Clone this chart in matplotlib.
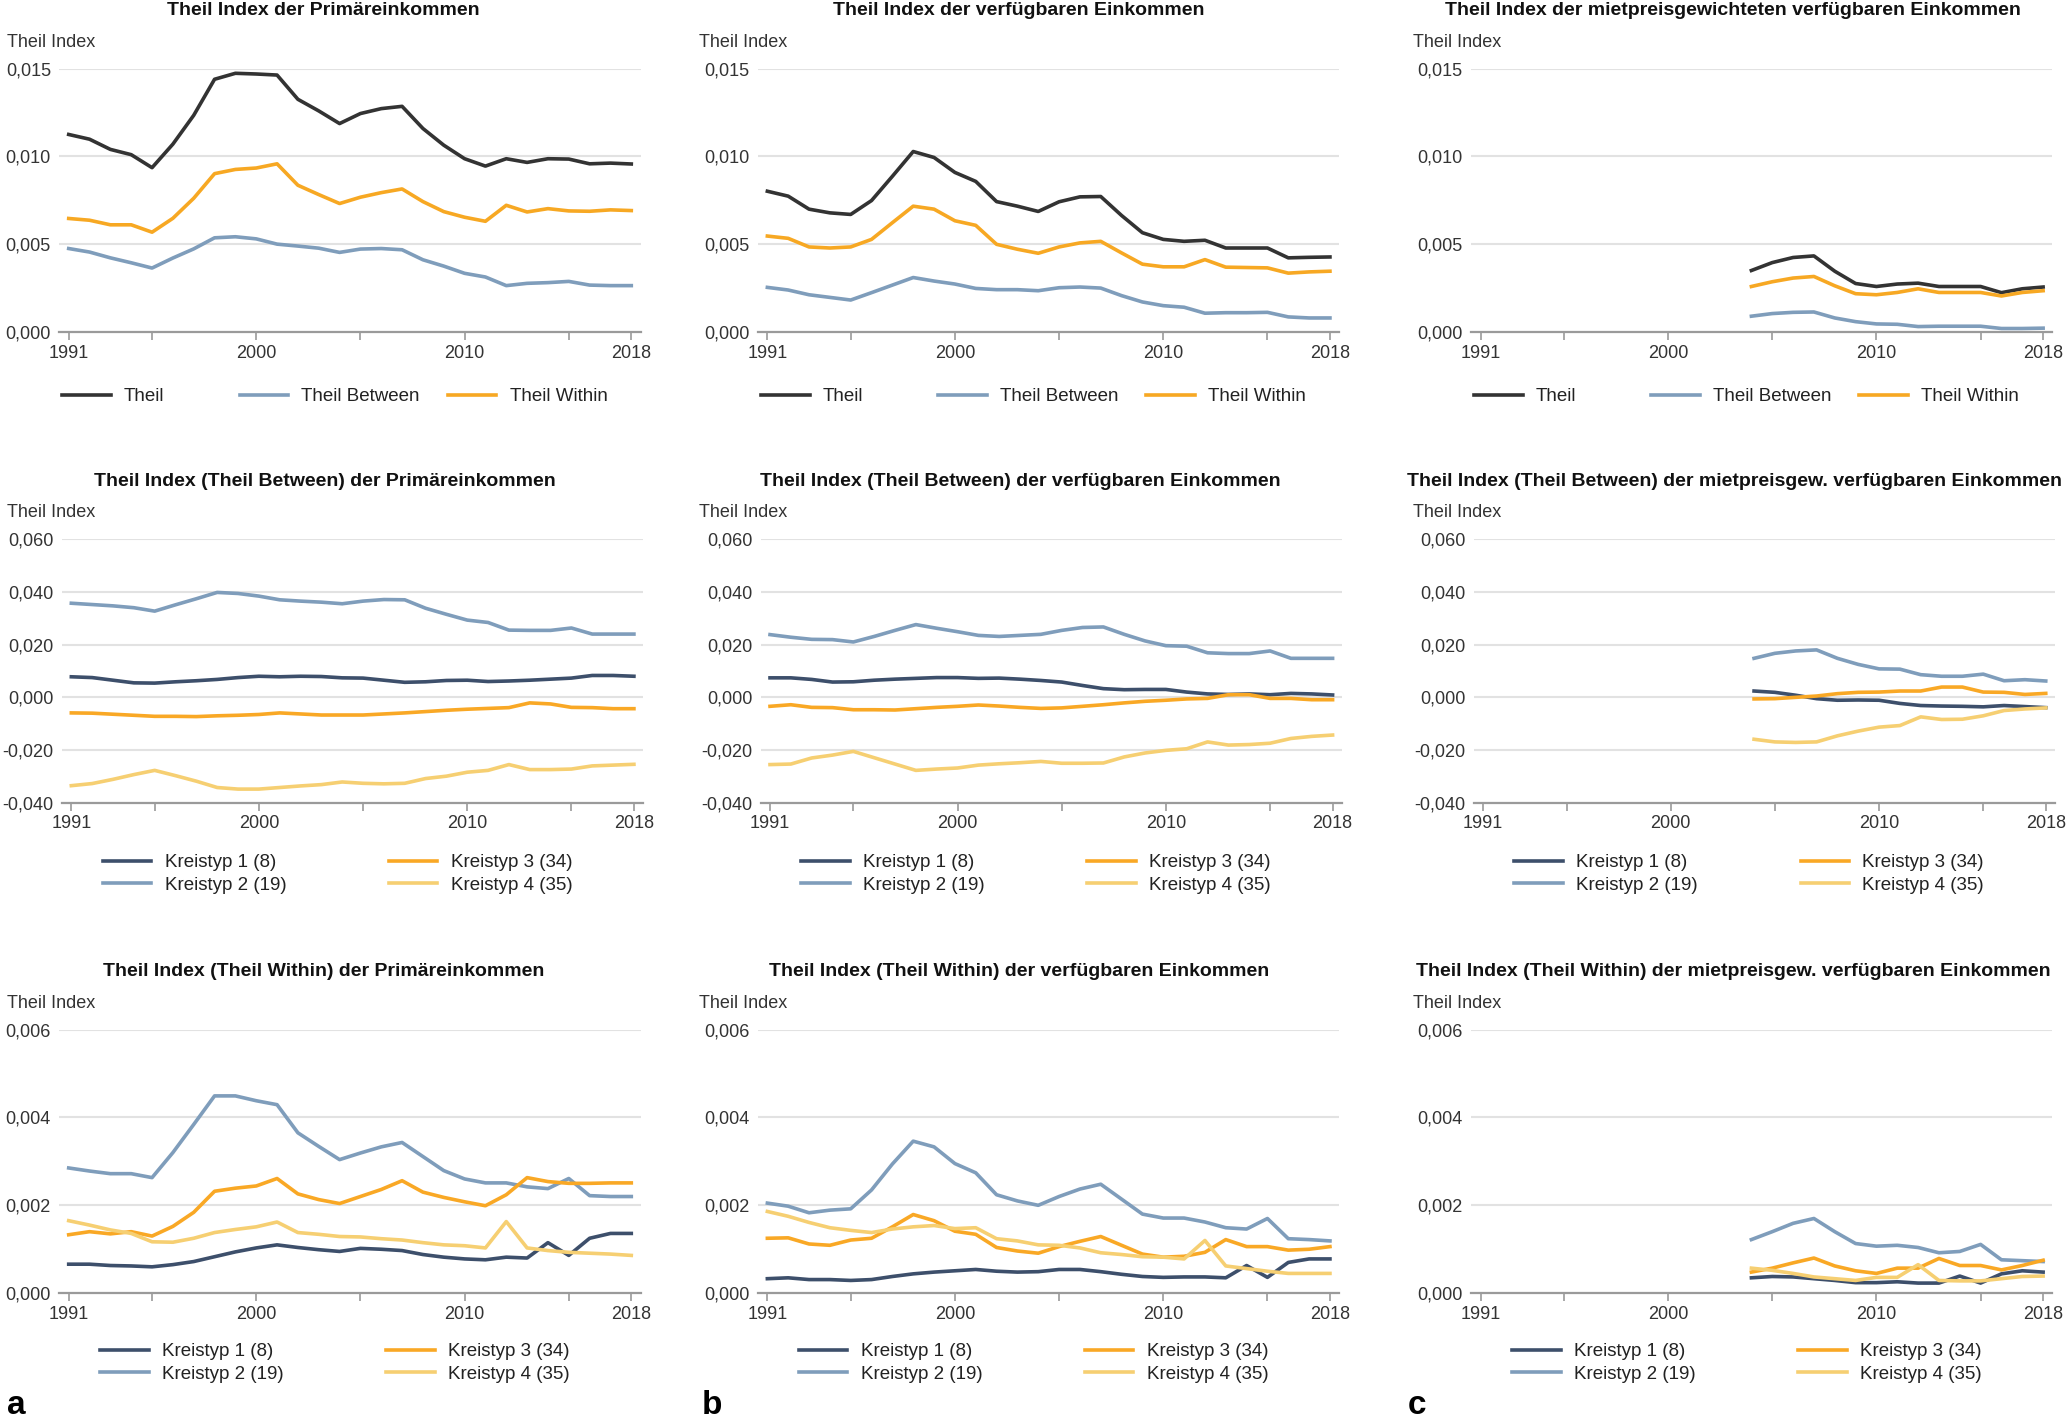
import matplotlib
matplotlib.use('Agg')
import matplotlib.pyplot as plt
from matplotlib.legend import Legend
from matplotlib.ticker import FixedLocator, FuncFormatter

plt.rcParams['font.family'] = ['DejaVu Sans Condensed', 'Liberation Sans Narrow', 'Liberation Sans', 'DejaVu Sans']

years = list(range(1991, 2019))
years_mp = list(range(2004, 2019))

# --- Theil index, total / between / within ---
p_theil = [0.01125, 0.01098, 0.0104, 0.0101, 0.00936, 0.0107, 0.01234, 0.01439, 0.01473, 0.01469,
           0.01463, 0.01325, 0.01259, 0.01187, 0.01244, 0.01272, 0.01285, 0.01159, 0.01064, 0.00987,
           0.00945, 0.00987, 0.00966, 0.00987, 0.00985, 0.00958, 0.00962, 0.00957]
p_between = [0.00476, 0.00456, 0.00423, 0.00395, 0.00365, 0.00422, 0.00474, 0.00537, 0.00543, 0.00531,
             0.00501, 0.0049, 0.00478, 0.00454, 0.00473, 0.00476, 0.00469, 0.00412, 0.00376, 0.00335,
             0.00314, 0.00265, 0.00278, 0.00282, 0.00289, 0.00268, 0.00265, 0.00265]
p_within = [0.00647, 0.00637, 0.00611, 0.00611, 0.00569, 0.00648, 0.00762, 0.00902, 0.00926, 0.00934,
            0.00958, 0.00836, 0.00783, 0.00732, 0.00768, 0.00794, 0.00815, 0.00743, 0.00686, 0.00654,
            0.00631, 0.00722, 0.00684, 0.00703, 0.0069, 0.00688, 0.00696, 0.00692]

v_theil = [0.00802, 0.00774, 0.007, 0.00679, 0.0067, 0.00749, 0.00887, 0.01028, 0.00994, 0.00909,
           0.00858, 0.00743, 0.00717, 0.00687, 0.00742, 0.0077, 0.00772, 0.00664, 0.00566, 0.00528,
           0.00517, 0.00523, 0.00479, 0.00479, 0.00479, 0.00423, 0.00426, 0.00428]
v_between = [0.00255, 0.0024, 0.00213, 0.00198, 0.00183, 0.00225, 0.00268, 0.00311, 0.00291, 0.00274,
             0.00249, 0.00242, 0.00242, 0.00236, 0.00253, 0.00257, 0.00251, 0.00208, 0.00172, 0.00151,
             0.00142, 0.00108, 0.00111, 0.00111, 0.00113, 0.00087, 0.00081, 0.00081]
v_within = [0.00547, 0.00534, 0.00485, 0.00479, 0.00485, 0.00528, 0.00623, 0.00717, 0.007, 0.00634,
            0.00608, 0.005, 0.00472, 0.00449, 0.00485, 0.00508, 0.00517, 0.00451, 0.00387, 0.00372,
            0.00372, 0.00413, 0.0037, 0.00368, 0.00366, 0.00336, 0.00343, 0.00347]

m_theil = [0.00351, 0.00396, 0.00425, 0.00434, 0.00347, 0.00277, 0.0026, 0.00274, 0.00279, 0.0026,
           0.0026, 0.0026, 0.00225, 0.00247, 0.00257]
m_between = [0.00091, 0.00106, 0.00113, 0.00115, 0.00081, 0.0006, 0.00047, 0.00045, 0.00032, 0.00034,
             0.00034, 0.00034, 0.00021, 0.00021, 0.00023]
m_within = [0.0026, 0.00287, 0.00308, 0.00317, 0.00264, 0.00219, 0.00213, 0.00226, 0.00247, 0.00226,
            0.00226, 0.00226, 0.00206, 0.00226, 0.00236]

# --- Theil Between by Kreistyp ---
pb_k1 = [0.0078, 0.0075, 0.0065, 0.0055, 0.0054, 0.0059, 0.0063, 0.0068, 0.0075, 0.008,
         0.0078, 0.008, 0.0079, 0.0074, 0.0073, 0.0065, 0.0057, 0.0059, 0.0064, 0.0065,
         0.006, 0.0062, 0.0065, 0.0069, 0.0073, 0.0083, 0.0083, 0.008]
pb_k2 = [0.0357, 0.0352, 0.0347, 0.034, 0.0327, 0.0351, 0.0374, 0.0398, 0.0394, 0.0384,
         0.037, 0.0365, 0.0361, 0.0355, 0.0365, 0.0371, 0.037, 0.0338, 0.0315, 0.0293,
         0.0284, 0.0255, 0.0254, 0.0254, 0.0263, 0.024, 0.024, 0.024]
pb_k3 = [-0.0059, -0.006, -0.0064, -0.0068, -0.0072, -0.0072, -0.0073, -0.007, -0.0068, -0.0065,
         -0.0059, -0.0063, -0.0067, -0.0067, -0.0067, -0.0063, -0.0059, -0.0054, -0.0049, -0.0045,
         -0.0042, -0.0039, -0.0021, -0.0025, -0.0038, -0.0039, -0.0043, -0.0043]
pb_k4 = [-0.0335, -0.0327, -0.0311, -0.0293, -0.0277, -0.0297, -0.0318, -0.0342, -0.0348, -0.0348,
         -0.0342, -0.0336, -0.0331, -0.0321, -0.0326, -0.0328, -0.0326, -0.0308, -0.0299, -0.0284,
         -0.0277, -0.0255, -0.0274, -0.0274, -0.0272, -0.026, -0.0257, -0.0254]

vb_k1 = [0.0074, 0.0074, 0.0068, 0.0058, 0.0059, 0.0065, 0.0069, 0.0072, 0.0075, 0.0075,
         0.0072, 0.0073, 0.0069, 0.0064, 0.0058, 0.0045, 0.0033, 0.0029, 0.003, 0.003,
         0.002, 0.0013, 0.0011, 0.0013, 0.001, 0.0015, 0.0013, 0.0009]
vb_k2 = [0.0238, 0.0228, 0.022, 0.0219, 0.021, 0.0231, 0.0254, 0.0276, 0.0262, 0.0249,
         0.0235, 0.0231, 0.0235, 0.0239, 0.0254, 0.0265, 0.0267, 0.0239, 0.0214, 0.0196,
         0.0194, 0.0169, 0.0166, 0.0166, 0.0176, 0.0148, 0.0148, 0.0148]
vb_k3 = [-0.0034, -0.0028, -0.0038, -0.0039, -0.0047, -0.0047, -0.0048, -0.0043, -0.0038, -0.0034,
         -0.0029, -0.0033, -0.0038, -0.0042, -0.004, -0.0034, -0.0028, -0.0021, -0.0015, -0.0011,
         -0.0006, -0.0004, 0.001, 0.001, -0.0004, -0.0004, -0.0009, -0.0009]
vb_k4 = [-0.0255, -0.0253, -0.023, -0.0219, -0.0205, -0.0229, -0.0253, -0.0277, -0.0272, -0.0268,
         -0.0257, -0.0252, -0.0248, -0.0243, -0.025, -0.025, -0.0249, -0.0226, -0.0211, -0.0201,
         -0.0195, -0.0169, -0.0181, -0.0179, -0.0174, -0.0156, -0.0148, -0.0143]

mb_k1 = [0.0024, 0.0019, 0.0008, -0.0005, -0.0011, -0.001, -0.0011, -0.0023, -0.0031, -0.0033,
         -0.0034, -0.0036, -0.0031, -0.0035, -0.0039]
mb_k2 = [0.0148, 0.0167, 0.0176, 0.018, 0.0148, 0.0125, 0.0108, 0.0107, 0.0086, 0.008,
         0.008, 0.0088, 0.0063, 0.0067, 0.0062]
mb_k3 = [-0.0006, -0.0005, 0.0, 0.0005, 0.0014, 0.0019, 0.002, 0.0024, 0.0024, 0.0039,
         0.0039, 0.002, 0.0019, 0.0011, 0.0015]
mb_k4 = [-0.0159, -0.0169, -0.0171, -0.0169, -0.0146, -0.0128, -0.0113, -0.0107, -0.0074, -0.0084,
         -0.0083, -0.007, -0.005, -0.0044, -0.004]

# --- Theil Within by Kreistyp ---
pw_k1 = [0.00066, 0.00066, 0.00063, 0.00062, 0.0006, 0.00065, 0.00072, 0.00083, 0.00094, 0.00103,
         0.0011, 0.00104, 0.00099, 0.00095, 0.00102, 0.001, 0.00097, 0.00088, 0.00082, 0.00078,
         0.00076, 0.00082, 0.0008, 0.00115, 0.00086, 0.00125, 0.00136, 0.00136]
pw_k2 = [0.00285, 0.00278, 0.00272, 0.00272, 0.00263, 0.0032, 0.00384, 0.00449, 0.00449, 0.00438,
         0.00429, 0.00365, 0.00334, 0.00304, 0.00319, 0.00333, 0.00343, 0.00311, 0.00279, 0.0026,
         0.00251, 0.00251, 0.00242, 0.00238, 0.00261, 0.00222, 0.0022, 0.0022]
pw_k3 = [0.00133, 0.0014, 0.00135, 0.0014, 0.0013, 0.00152, 0.00184, 0.00232, 0.00239, 0.00244,
         0.00261, 0.00226, 0.00213, 0.00204, 0.0022, 0.00236, 0.00256, 0.0023, 0.00218, 0.00208,
         0.00199, 0.00224, 0.00263, 0.00254, 0.0025, 0.0025, 0.00251, 0.00251]
pw_k4 = [0.00165, 0.00155, 0.00144, 0.00136, 0.00117, 0.00116, 0.00125, 0.00138, 0.00145, 0.00151,
         0.00162, 0.00138, 0.00134, 0.00129, 0.00128, 0.00124, 0.00121, 0.00115, 0.0011, 0.00108,
         0.00103, 0.00163, 0.00103, 0.00097, 0.00093, 0.00091, 0.00089, 0.00086]

vw_k1 = [0.00033, 0.00035, 0.00031, 0.00031, 0.00029, 0.00031, 0.00038, 0.00044, 0.00048, 0.00051,
         0.00054, 0.0005, 0.00048, 0.00049, 0.00054, 0.00054, 0.00049, 0.00043, 0.00038, 0.00036,
         0.00037, 0.00037, 0.00035, 0.00063, 0.00036, 0.0007, 0.00078, 0.00078]
vw_k2 = [0.00205, 0.00198, 0.00183, 0.00189, 0.00192, 0.00235, 0.00294, 0.00346, 0.00333, 0.00295,
         0.00274, 0.00224, 0.0021, 0.002, 0.0022, 0.00237, 0.00248, 0.00214, 0.0018, 0.00171,
         0.00171, 0.00162, 0.00149, 0.00146, 0.0017, 0.00124, 0.00122, 0.00119]
vw_k3 = [0.00125, 0.00126, 0.00112, 0.00109, 0.00121, 0.00125, 0.00151, 0.00179, 0.00165, 0.00141,
         0.00134, 0.00104, 0.00096, 0.00091, 0.00106, 0.00118, 0.00129, 0.00109, 0.00089, 0.00082,
         0.00084, 0.00093, 0.00122, 0.00106, 0.00106, 0.00098, 0.001, 0.00106]
vw_k4 = [0.00186, 0.00175, 0.00161, 0.00149, 0.00143, 0.00138, 0.00146, 0.00151, 0.00154, 0.00147,
         0.00149, 0.00124, 0.00119, 0.0011, 0.00109, 0.00103, 0.00092, 0.00088, 0.00083, 0.00082,
         0.00078, 0.0012, 0.00062, 0.00056, 0.0005, 0.00045, 0.00045, 0.00045]

mw_k1 = [0.00035, 0.00038, 0.00037, 0.00033, 0.00029, 0.00024, 0.00024, 0.00026, 0.00023, 0.00023,
         0.00039, 0.00023, 0.00044, 0.00051, 0.00048]
mw_k2 = [0.00122, 0.0014, 0.00159, 0.0017, 0.0014, 0.00113, 0.00107, 0.00109, 0.00104, 0.00092,
         0.00095, 0.00111, 0.00076, 0.00074, 0.00072]
mw_k3 = [0.00048, 0.00057, 0.00069, 0.0008, 0.00062, 0.00051, 0.00045, 0.00057, 0.00057, 0.00079,
         0.00063, 0.00063, 0.00053, 0.00063, 0.00075]
mw_k4 = [0.00057, 0.00052, 0.00045, 0.00037, 0.00033, 0.00029, 0.00036, 0.00036, 0.00065, 0.00029,
         0.00028, 0.00028, 0.00033, 0.00038, 0.00039]

top_titles = ['Theil Index der Primäreinkommen',
              'Theil Index der verfügbaren Einkommen',
              'Theil Index der mietpreisgewichteten verfügbaren Einkommen']
mid_titles = ['Theil Index (Theil Between) der Primäreinkommen',
              'Theil Index (Theil Between) der verfügbaren Einkommen',
              'Theil Index (Theil Between) der mietpreisgew. verfügbaren Einkommen']
bot_titles = ['Theil Index (Theil Within) der Primäreinkommen',
              'Theil Index (Theil Within) der verfügbaren Einkommen',
              'Theil Index (Theil Within) der mietpreisgew. verfügbaren Einkommen']
kreis_labels = ['Kreistyp 1 (8)', 'Kreistyp 2 (19)', 'Kreistyp 3 (34)', 'Kreistyp 4 (35)']

c_theil = '#333333'
c_between = '#7f9dbb'
c_within = '#f7a823'
c_k1 = '#3d4f6b'
c_k2 = '#7f9dbb'
c_k3 = '#f9a825'
c_k4 = '#f6cf72'
kreis_colors = [c_k1, c_k2, c_k3, c_k4]

S = 2067 / 1568
fig = plt.figure(figsize=(20.67, 14.19), dpi=100)

TITLE_FS = 14
TICK_FS = 13
LEG_FS = 13.5


# positions given in the 1568 px wide frame of the reference
def rect(x, y, w, h):
    return [x * S / 2067, 1 - (y + h) * S / 1419, w * S / 2067, h * S / 1419]


def yfmt(v, pos):
    return ('%.3f' % v).replace('.', ',')


label_x = [5, 530, 1072]
axes_x = [45, 575, 1116]
AW, AH = 441, 200


def add_legend_group(ax, lines, x, y):
    leg = Legend(ax, lines, [ln.get_label() for ln in lines], loc='center left',
                 bbox_to_anchor=(x, y), ncol=1, frameon=False, fontsize=LEG_FS,
                 handlelength=2.6, handletextpad=0.7, labelspacing=0.3,
                 borderpad=0, borderaxespad=0)
    for t in leg.get_texts():
        t.set_color('#222222')
    ax.add_artist(leg)


def make_panel(col, top, ylim, yticks, title, series, groups, leg_y, shift=0):
    x0 = axes_x[col] + shift
    ax = fig.add_axes(rect(x0, top, AW, AH))
    lines = []
    for xs, ys, color, label in series:
        ln, = ax.plot(xs, ys, color=color, lw=2.6, label=label)
        lines.append(ln)
    ax.set_xlim(1990.55, 2018.45)
    ax.set_ylim(*ylim)
    ax.yaxis.set_major_locator(FixedLocator(yticks))
    ax.yaxis.set_major_formatter(FuncFormatter(yfmt))
    ax.xaxis.set_major_locator(FixedLocator([1991, 1995, 2000, 2005, 2010, 2015, 2018]))
    ax.xaxis.set_major_formatter(FuncFormatter(
        lambda v, p: str(int(v)) if int(v) in (1991, 2000, 2010, 2018) else ''))
    ax.grid(axis='y', color='#e2e2e2', lw=1.5)
    ax.set_axisbelow(True)
    for s in ['left', 'right', 'top']:
        ax.spines[s].set_visible(False)
    ax.spines['bottom'].set_color('#9a9a9a')
    ax.spines['bottom'].set_linewidth(1.6)
    ax.tick_params(axis='y', length=0, pad=6, labelsize=TICK_FS, labelcolor='#333333')
    ax.tick_params(axis='x', length=6, width=1.2, color='#9a9a9a', pad=3,
                   labelsize=TICK_FS, labelcolor='#333333')
    for idx, gx in groups:
        add_legend_group(ax, [lines[i] for i in idx], gx, leg_y)
    cx = (label_x[col] + x0 + AW) / 2
    fig.text(cx * S / 2067, 1 - (top - 44) * S / 1419, title, ha='center', va='center',
             fontsize=TITLE_FS, fontweight='bold', color='#111111')
    fig.text(label_x[col] * S / 2067, 1 - (top - 20) * S / 1419, 'Theil Index',
             ha='left', va='center', fontsize=TICK_FS, color='#333333')
    return ax


top_groups = [([0], 0.005), ([1], 0.31), ([2], 0.668)]
kreis_groups = [([0, 1], 0.07), ([2, 3], 0.562)]

top_data = [(years, p_theil, p_between, p_within),
            (years, v_theil, v_between, v_within),
            (years_mp, m_theil, m_between, m_within)]
for col, (xs, t, b, w) in enumerate(top_data):
    make_panel(col, 52, (0, 0.015), [0, 0.005, 0.010, 0.015], top_titles[col],
               [(xs, t, c_theil, 'Theil'), (xs, b, c_between, 'Theil Between'),
                (xs, w, c_within, 'Theil Within')], top_groups, -0.245)

mid_data = [(years, [pb_k1, pb_k2, pb_k3, pb_k4]),
            (years, [vb_k1, vb_k2, vb_k3, vb_k4]),
            (years_mp, [mb_k1, mb_k2, mb_k3, mb_k4])]
for col, (xs, ks) in enumerate(mid_data):
    make_panel(col, 409, (-0.04, 0.06), [-0.04, -0.02, 0, 0.02, 0.04, 0.06], mid_titles[col],
               [(xs, k, kreis_colors[i], kreis_labels[i]) for i, k in enumerate(ks)],
               kreis_groups, -0.27, shift=2)

bot_data = [(years, [pw_k1, pw_k2, pw_k3, pw_k4]),
            (years, [vw_k1, vw_k2, vw_k3, vw_k4]),
            (years_mp, [mw_k1, mw_k2, mw_k3, mw_k4])]
for col, (xs, ks) in enumerate(bot_data):
    make_panel(col, 781, (0, 0.006), [0, 0.002, 0.004, 0.006], bot_titles[col],
               [(xs, k, kreis_colors[i], kreis_labels[i]) for i, k in enumerate(ks)],
               kreis_groups, -0.265)

for lx, letter in zip([5, 532, 1068], ['a', 'b', 'c']):
    fig.text(lx * S / 2067, 1 - 1066 * S / 1419, letter, ha='left', va='center',
             fontsize=24, fontweight='bold', color='#000000')

fig.savefig('out.png', dpi=100)
